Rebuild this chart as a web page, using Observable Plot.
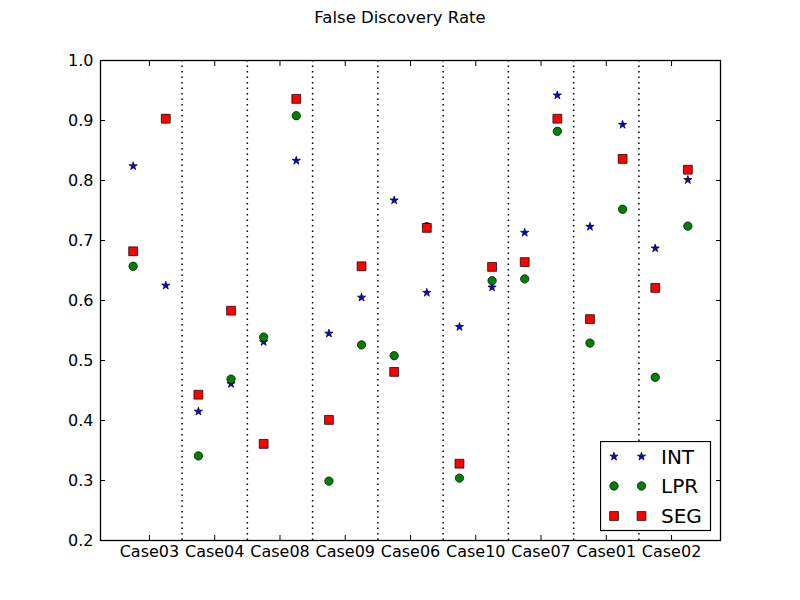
<!DOCTYPE html>
<html><head><meta charset="utf-8">
<script src="https://cdn.jsdelivr.net/npm/d3@7"></script>
<script src="https://cdn.jsdelivr.net/npm/@observablehq/plot@0.6"></script>
<style>
body{margin:0;background:#fff;}
#wrap{position:relative;width:800px;height:600px;font-family:"DejaVu Sans",sans-serif;background:#fff;}
#title{position:absolute;left:0;top:8px;width:800px;text-align:center;font-size:16.5px;color:#000;z-index:2;}
#legend{position:absolute;left:600px;top:441px;z-index:2;}
#chart{position:absolute;left:0;top:0;}
</style></head><body>
<div id="wrap"><div id="title">False Discovery Rate</div><div id="chart"></div></div>
<script>
const cases = ["Case03","Case04","Case08","Case09","Case06","Case10","Case07","Case01","Case02"];
const yTicks = [0.2,0.3,0.4,0.5,0.6,0.7,0.8,0.9,1.0];
const seriesNames = ["INT","LPR","SEG"];
const intFirst  = [0.824, 0.415, 0.531, 0.545, 0.767, 0.556, 0.713, 0.723, 0.687];
const intSecond = [0.625, 0.461, 0.833, 0.605, 0.613, 0.622, 0.942, 0.893, 0.801];
const lprFirst  = [0.657, 0.341, 0.539, 0.299, 0.508, 0.304, 0.636, 0.529, 0.472];
const lprSecond = [0.903, 0.469, 0.908, 0.526, 0.723, 0.633, 0.882, 0.752, 0.724];
const segFirst  = [0.682, 0.443, 0.361, 0.401, 0.481, 0.328, 0.664, 0.569, 0.621];
const segSecond = [0.903, 0.583, 0.936, 0.657, 0.721, 0.656, 0.903, 0.836, 0.818];

const seriesData = {INT:[intFirst,intSecond], LPR:[lprFirst,lprSecond], SEG:[segFirst,segSecond]};
const rows = [];
for (const s of seriesNames) {
  seriesData[s].forEach((arr, k) => {
    arr.forEach((v, i) => rows.push({series: s, idx: i, slot: k, value: v}));
  });
}
const xpos = d => d.idx + (d.slot === 0 ? -0.25 : 0.25);
const styles = {
  INT: {symbol: "star", r: 2.6, fill: "#0000ff"},
  LPR: {symbol: "circle", r: 4.2, fill: "#008000"},
  SEG: {symbol: "square", r: 5.0, fill: "#ff0000"}
};
const noText = () => "";

const chart = Plot.plot({
  width: 800, height: 600,
  marginTop: 60, marginRight: 80, marginBottom: 60, marginLeft: 100,
  style: {fontFamily: "DejaVu Sans, sans-serif", fontSize: "16px", color: "#000", background: "#fff", overflow: "visible"},
  x: {domain: [-0.75, cases.length - 0.25], label: null},
  y: {domain: [0.2, 1.0], label: null},
  marks: [
    Plot.ruleX(d3.range(cases.length - 1), {x: i => i + 0.5, stroke: "#000", strokeWidth: 1.5, strokeDasharray: "1.5,4"}),
    ...seriesNames.map(s => Plot.dot(rows.filter(d => d.series === s), {
      x: xpos, y: "value", symbol: styles[s].symbol, r: styles[s].r,
      fill: styles[s].fill, stroke: "#000", strokeWidth: 0.7
    })),
    Plot.frame({stroke: "#000", strokeWidth: 1.3}),
    Plot.axisY(yTicks, {anchor: "left", tickSize: 0, tickPadding: 7, tickFormat: d3.format(".1f"), fontSize: 16, label: null}),
    Plot.axisY(yTicks, {anchor: "left", tickSize: 5, dx: 5, tickFormat: noText, label: null}),
    Plot.axisY(yTicks, {anchor: "right", tickSize: 5, dx: -5, tickFormat: noText, label: null}),
    Plot.axisX(d3.range(cases.length), {anchor: "bottom", tickSize: 0, tickPadding: 5, tickFormat: i => cases[i], fontSize: 16, label: null}),
    Plot.axisX(d3.range(cases.length), {anchor: "bottom", tickSize: 5, dy: -5, tickFormat: noText, label: null}),
    Plot.axisX(d3.range(cases.length), {anchor: "top", tickSize: 5, dy: 5, tickFormat: noText, label: null})
  ]
});
document.getElementById("chart").appendChild(chart);

// legend
const leg = d3.select("#wrap").append("svg").attr("id", "legend")
  .attr("width", 112).attr("height", 91);
leg.append("rect").attr("x", 0.5).attr("y", 0.5).attr("width", 110).attr("height", 89)
  .attr("fill", "#fff").attr("stroke", "#000").attr("stroke-width", 1.2);
const rowsY = [15.5, 45, 75];
const symbolMap = {star: d3.symbolStar, circle: d3.symbolCircle, square: d3.symbolSquare};
seriesNames.forEach((s, j) => {
  const st = styles[s];
  const path = d3.symbol(symbolMap[st.symbol], st.r * st.r * Math.PI)();
  [14, 41.5].forEach(mx => {
    leg.append("path").attr("d", path).attr("transform", `translate(${mx},${rowsY[j]})`)
      .attr("fill", st.fill).attr("stroke", "#000").attr("stroke-width", 0.7);
  });
  leg.append("text").attr("x", 61).attr("y", rowsY[j]).attr("dy", "0.36em")
    .attr("font-family", "DejaVu Sans, sans-serif").attr("font-size", 20).text(s);
});
</script>
</body></html>
